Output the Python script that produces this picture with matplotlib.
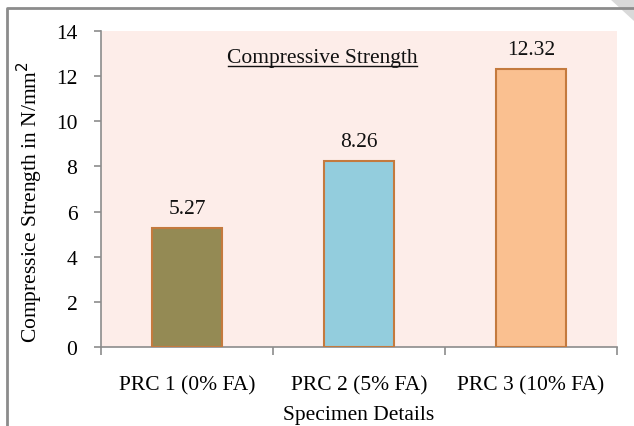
import matplotlib
matplotlib.use("Agg")
import matplotlib.pyplot as plt
from matplotlib.lines import Line2D
from matplotlib.patches import Polygon
import numpy as np

categories = ["PRC 1 (0% FA)", "PRC 2 (5% FA)", "PRC 3 (10% FA)"]
values = [5.27, 8.26, 12.32]
colors = ["#948A54", "#93CDDD", "#FAC090"]
yticks = [0, 2, 4, 6, 8, 10, 12, 14]

plt.rcParams['font.family'] = ['Liberation Serif', 'DejaVu Serif']
FS = 15.5

W, H = 634, 427
fig = plt.figure(figsize=(W/100, H/100), dpi=100)
ax = fig.add_axes([101/W, 1-348/H, (617-101)/W, (348-32)/H])
ax.set_facecolor("#FDEDE9")

x = np.arange(len(categories))
ax.bar(x, values, width=0.41, color=colors, edgecolor="#C47A3E", linewidth=1.5, zorder=3)
for xi, v in zip(x, values):
    ax.annotate(f"{v:.2f}", (xi, v), xytext=(0, 14), textcoords="offset points",
                ha="center", va="center", fontsize=FS, color="#111111")

ax.set_xlim(-0.5, len(categories)-0.5)
ax.set_ylim(0, 14)
ax.set_yticks(yticks)
ax.set_xticks(x)
ax.set_xticklabels(categories, fontsize=FS)
ax.set_xticks(np.arange(len(categories)+1)-0.5, minor=True)
ax.tick_params(axis='x', which='major', length=0, pad=20)
ax.tick_params(axis='x', which='minor', length=6, width=1.2, color="#8C8C8C", direction='out')
ax.tick_params(axis='y', length=5, width=1.2, color="#8C8C8C", direction='out', labelsize=FS, pad=12)

for s in ["top", "right"]:
    ax.spines[s].set_visible(False)
for s in ["left", "bottom"]:
    ax.spines[s].set_color("#8C8C8C")
    ax.spines[s].set_linewidth(1.2)

ax.set_xlabel("Specimen Details", fontsize=FS, labelpad=8)
ax.set_ylabel("Compressice Strength in N/mm$^2$", fontsize=FS)
ax.yaxis.set_label_coords(-0.108, 0.462)

ax.text((322.5-101)/516, (348-63)/316, "Compressive Strength", transform=ax.transAxes,
        ha="center", va="baseline", fontsize=FS, color="#111111")
# underline
ax.add_line(Line2D([(228-101)/516, (417-101)/516], [(348-66.5)/316]*2, transform=ax.transAxes,
                   color="#111111", linewidth=1.0))

# frame
fig.add_artist(Line2D([7/W, 7/W, 1.0], [0, 1-9/H, 1-9/H], transform=fig.transFigure,
                      color="#8C8C8C", linewidth=2.0))
fig.add_artist(Polygon([[610/W, 1.0], [634/W, 1.0], [634/W, 1-22/H]], closed=True,
                       transform=fig.transFigure, facecolor="#D9D9D9", edgecolor="none"))

fig.savefig("out.png", dpi=100)
